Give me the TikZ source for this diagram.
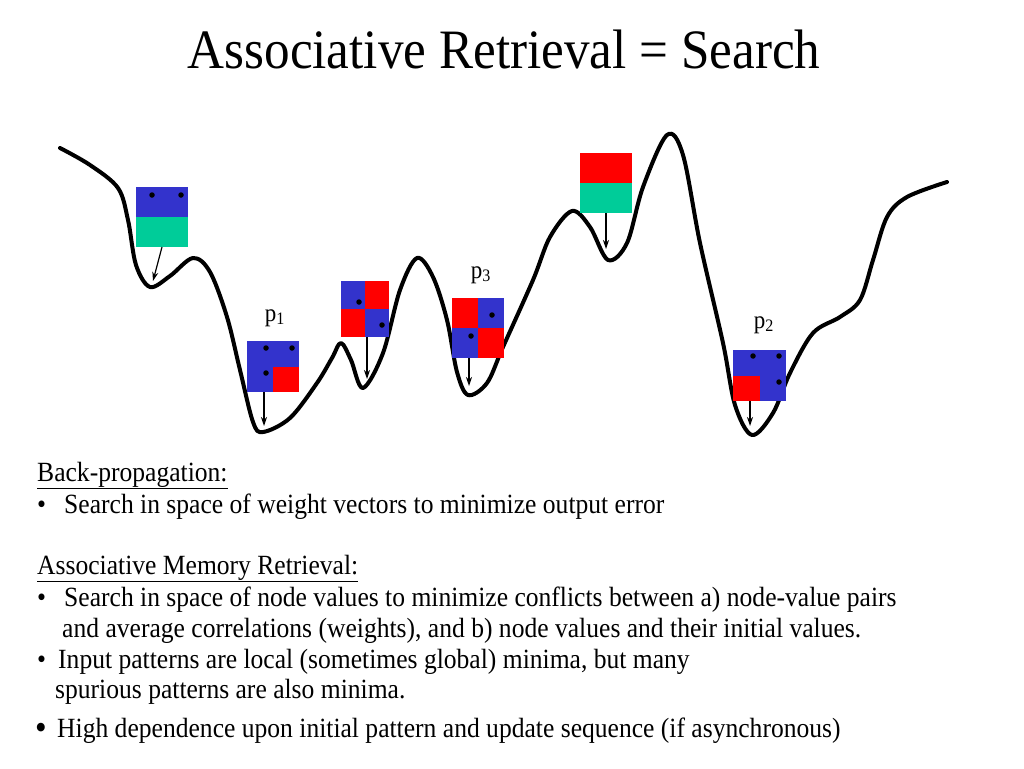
\documentclass[tikz,border=0pt]{standalone}
\usepackage{fontspec}
\setmainfont{Liberation Serif}[FakeStretch=0.92]
\usetikzlibrary{arrows.meta}
\definecolor{pblue}{RGB}{51,51,204}
\definecolor{pred}{RGB}{255,0,0}
\definecolor{pgreen}{RGB}{0,204,153}
\begin{document}
\begin{tikzpicture}[x=1pt,y=-1pt,
  txt/.style={anchor=base west, inner sep=0pt, font=\fontsize{27.8}{32}\selectfont},
  sq/.style={inner sep=0pt, outer sep=0pt, draw=none},
  dot/.style={circle, fill=black, inner sep=0pt, minimum size=5.5pt},
  fall/.style={-{Stealth[length=9pt,width=6pt]}, line width=1.2pt},
  plab/.style={font=\fontsize{25}{28}\selectfont, inner sep=0pt},
  landscape/.style={line width=4pt, line cap=round, line join=round}
]
\useasboundingbox (0,0) rectangle (1024,768);
\fill[white] (0,0) rectangle (1024,768);

% title
\node[anchor=base, inner sep=0pt, font=\fontsize{55.6}{62}\selectfont] (title) at (504,68) {Associative Retrieval = Search};

% energy landscape
\draw[landscape] plot[smooth, tension=0.55] coordinates {
(60,148) (90,165) (118,188) (128,220) (136,265) (150,287) (170,276) (193,258)
(210,272) (227,317) (240,370) (253,422) (263,432) (290,418) (317,383) (332,358)
(341,343) (351,360) (363,388) (383,353) (400,290) (417,258) (433,277) (447,320)
(457,372) (468,395) (487,383) (503,347) (533,280) (550,237) (572,211) (590,227)
(608,260) (627,243) (643,187) (667,135) (683,155) (700,243) (723,343) (735,405)
(752,435) (773,413) (790,373) (813,333) (840,317) (860,300) (873,260) (887,217)
(907,197) (947,182)};

% pattern 1 (blue over green)
\node[sq, minimum width=52pt, minimum height=60pt] (s1) at (162,217) {};
\fill[pblue] (s1.north west) rectangle (s1.east);
\fill[pgreen] (s1.west) rectangle (s1.south east);
\node[dot] (s1a) at (152,195) {};
\node[dot] (s1b) at (181,195) {};
\coordinate (m1) at (153,281);
\draw[fall] (s1.south) -- (m1);

% pattern p1
\node[sq, minimum width=52pt, minimum height=51pt] (s2) at (273,366.5) {};
\fill[pblue] (s2.north west) rectangle (s2.south east);
\fill[pred] (s2.center) rectangle (s2.south east);
\node[dot] (s2a) at (266,348) {};
\node[dot] (s2b) at (292,348) {};
\node[dot] (s2c) at (266,373) {};
\node[plab] (p1) at (275,318) {p\textsubscript{1}};
\coordinate (m2) at (264,426);
\draw[fall] (s2.south -| m2) -- (m2);

% pattern 3 (checker)
\node[sq, minimum width=48pt, minimum height=56pt] (s3) at (365,309) {};
\fill[pblue] (s3.north west) rectangle (s3.center);
\fill[pred] (s3.north) rectangle (s3.east);
\fill[pred] (s3.west) rectangle (s3.south);
\fill[pblue] (s3.center) rectangle (s3.south east);
\node[dot] (s3a) at (359,302) {};
\node[dot] (s3b) at (382,325) {};
\coordinate (m3) at (367,379);
\draw[fall] (s3.south -| m3) -- (m3);

% pattern p3
\node[sq, minimum width=52pt, minimum height=60pt] (s4) at (478,328) {};
\fill[pred] (s4.north west) rectangle (s4.center);
\fill[pblue] (s4.north) rectangle (s4.east);
\fill[pblue] (s4.west) rectangle (s4.south);
\fill[pred] (s4.center) rectangle (s4.south east);
\node[dot] (s4a) at (492,315) {};
\node[dot] (s4b) at (471,336) {};
\node[plab] (p3) at (481,275) {p\textsubscript{3}};
\coordinate (m4) at (469,386);
\draw[fall] (s4.south -| m4) -- (m4);

% pattern 5 (red over green)
\node[sq, minimum width=52pt, minimum height=60pt] (s5) at (606,183) {};
\fill[pred] (s5.north west) rectangle (s5.east);
\fill[pgreen] (s5.west) rectangle (s5.south east);
\coordinate (m5) at (606,249);
\draw[fall] (s5.south) -- (m5);

% pattern p2
\node[sq, minimum width=53pt, minimum height=51pt] (s6) at (759.5,375.5) {};
\fill[pblue] (s6.north west) rectangle (s6.south east);
\fill[pred] (s6.west) rectangle (s6.south);
\node[dot] (s6a) at (753,356) {};
\node[dot] (s6b) at (779,356) {};
\node[dot] (s6c) at (779,382) {};
\node[plab] (p2) at (764,325) {p\textsubscript{2}};
\coordinate (m6) at (750,426);
\draw[fall] (s6.south -| m6) -- (m6);

% text
\node[txt] (h1) at (37,481) {\underline{Back-propagation:}};
\node[txt] (b1) at (37,513) {•};
\node[txt] (t1) at (64,513) {Search in space of weight vectors to minimize output error};
\node[txt] (h2) at (37,574) {\underline{Associative Memory Retrieval:}};
\node[txt] (b2) at (37,606) {•};
\node[txt] (t2) at (64,606) {Search in space of node values to minimize conflicts between a) node-value pairs};
\node[txt] (t2b) at (62,637) {and average correlations (weights), and b) node values and their initial values.};
\node[txt] (b3) at (37,668) {•};
\node[txt] (t3) at (58,668) {Input patterns are local (sometimes global) minima, but many};
\node[txt] (t3b) at (55,698) {spurious patterns are also minima.};
\node[txt, font=\fontsize{36}{40}\selectfont] (b4) at (35,739) {•};
\node[txt] (t4) at (57,737) {High dependence upon initial pattern and update sequence (if asynchronous)};
\end{tikzpicture}
\end{document}
